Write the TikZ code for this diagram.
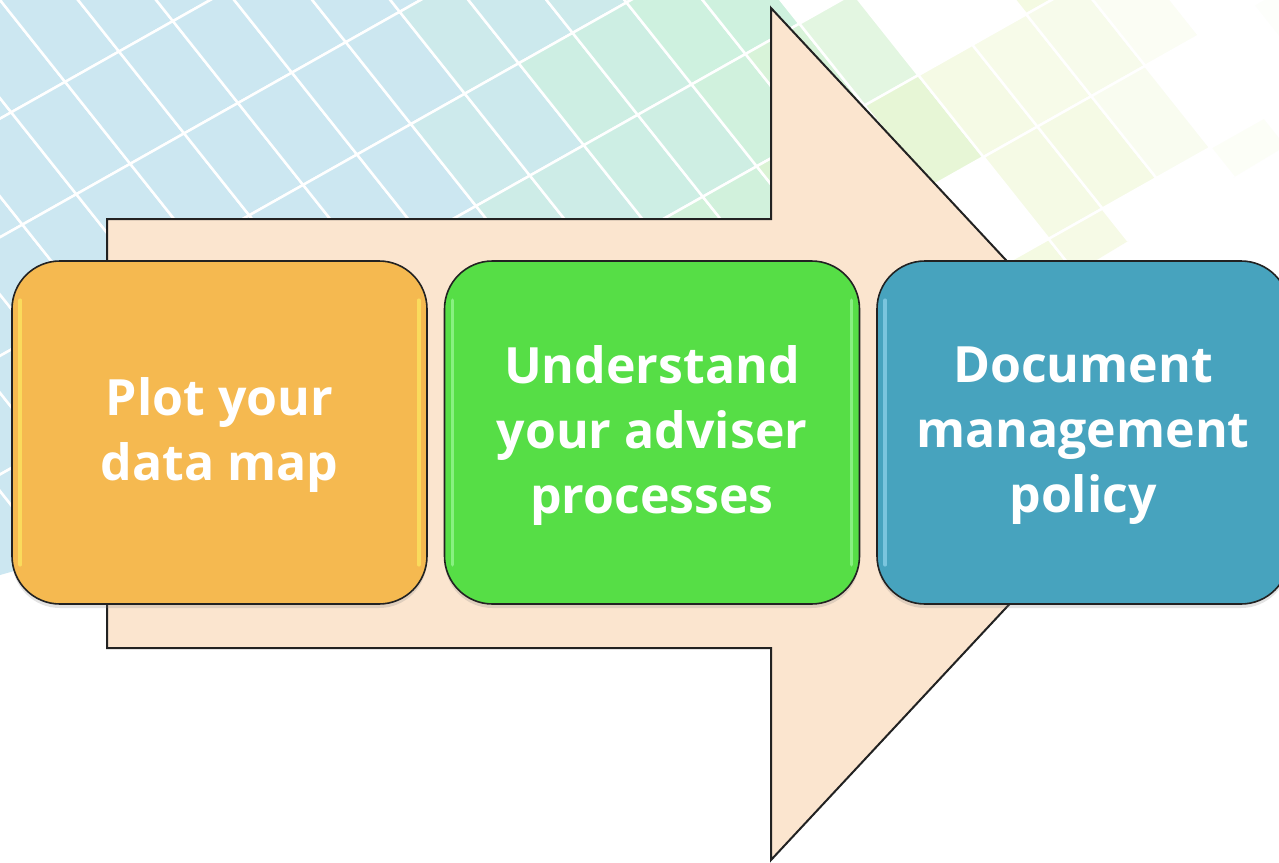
\documentclass[tikz,border=0pt]{standalone}
\usepackage{fontspec}
\setmainfont{Open Sans}
\usetikzlibrary{shadows}
\definecolor{tblue}{RGB}{204,231,241}
\definecolor{tgreen}{RGB}{206,241,222}
\definecolor{tyel}{RGB}{234,245,200}
\definecolor{arrowfill}{RGB}{251,229,207}
\definecolor{cOrange}{RGB}{245,185,80}
\definecolor{cGreen}{RGB}{86,222,70}
\definecolor{cTeal}{RGB}{71,163,190}
\definecolor{edge}{RGB}{34,34,34}
\tikzset{
  stepbox/.style={draw=edge, line width=1.6pt, rounded corners=48pt,
    minimum height=343pt, inner sep=0pt, text=white, align=center,
    font=\fontsize{50}{65}\selectfont\bfseries,
    drop shadow={opacity=0.22, shadow xshift=0pt, shadow yshift=-4pt}},
  hl/.style={line width=3.5pt, line cap=round, opacity=0.55},
  bigarrow/.style={fill=arrowfill, draw=edge, line width=2pt, line join=miter},
  lbl/.style={text=white, align=center, font=\fontsize{50}{65}\selectfont\bfseries}
}
\begin{document}
\begin{tikzpicture}[x=1pt,y=-1pt]
\useasboundingbox (0,0) rectangle (1279,862);
\fill[white] (0,0) rectangle (1279,862);
% background tiles
\begin{scope}
\clip (0,0) -- (1279,0) -- (1279,150) -- (1080,270) -- (0,575) -- cycle;
\pgfmathsetseed{11}
\foreach \i in {-7,...,17}{
 \foreach \j in {-1,...,11}{
  \pgfmathsetmacro\ax{\i*53.9+\j*65.1}
  \pgfmathsetmacro\ay{-\i*30.4+\j*81.9}
  \pgfmathsetmacro\cx{\ax+59.5}
  \pgfmathsetmacro\ra{rnd}
  \pgfmathsetmacro\rb{rnd}
  \pgfmathsetmacro\rc{rnd}
  \pgfmathsetmacro\rd{rnd}
  \pgfmathtruncatemacro\gm{max(0,min(100,(\cx-380)/3.5 + 40*(\ra-0.5)))}
  \pgfmathtruncatemacro\ym{max(0,min(100,(\cx-700)/2.5 + 50*(\rb-0.5)))}
  \pgfmathtruncatemacro\fd{max(8,min(100, 100-(\cx-780)/5 + 30*(\rc-0.5)))}
  \pgfmathtruncatemacro\keep{\cx < 650 ? 1 : (\rd > (\cx-650)/900 ? 1 : 0)}
  \ifnum\keep=1
   \colorlet{tc1}{tgreen!\gm!tblue}
   \colorlet{tc2}{tyel!\ym!tc1}
   \colorlet{tcf}{tc2!\fd!white}
   \filldraw[draw=white, line width=2.5pt, fill=tcf]
     (\ax,\ay) -- ++(53.9,-30.4) -- ++(65.1,81.9) -- ++(-53.9,30.4) -- cycle;
  \fi
 }}
\end{scope}
% big arrow
\coordinate (a1) at (107,219);
\coordinate (a2) at (771,219);
\coordinate (a3) at (771,8);
\coordinate (tip) at (1168,434);
\coordinate (a5) at (771,860);
\coordinate (a6) at (771,648);
\coordinate (a7) at (107,648);
\draw[bigarrow] (a1) -- (a2) -- (a3) -- (tip) -- (a5) -- (a6) -- (a7) -- cycle;
% boxes
\node[stepbox, fill=cOrange, minimum width=415pt] (b1) at (219.5,432.5) {};
\node[stepbox, fill=cGreen, minimum width=415pt] (b2) at (652,432.5) {};
\node[stepbox, fill=cTeal, minimum width=412pt] (b3) at (1083,432.5) {};
% glossy highlights
\draw[hl, draw=yellow!60!white] ([xshift=9pt,yshift=-40pt]b1.north west) -- ([xshift=9pt,yshift=40pt]b1.south west);
\draw[hl, draw=yellow!60!white] ([xshift=-9pt,yshift=-40pt]b1.north east) -- ([xshift=-9pt,yshift=40pt]b1.south east);
\draw[hl, draw=green!30!white] ([xshift=9pt,yshift=-40pt]b2.north west) -- ([xshift=9pt,yshift=40pt]b2.south west);
\draw[hl, draw=green!30!white] ([xshift=-9pt,yshift=-40pt]b2.north east) -- ([xshift=-9pt,yshift=40pt]b2.south east);
\draw[hl, draw=cyan!35!white] ([xshift=9pt,yshift=-40pt]b3.north west) -- ([xshift=9pt,yshift=40pt]b3.south west);
% labels
\node[lbl] (t1) at ([yshift=-3pt]b1.center) {Plot your\\data map};
\node[lbl] (t2) at ([yshift=-3pt]b2.center) {Understand\\your adviser\\processes};
\node[lbl] (t3) at ([yshift=-3pt]b3.center) {Document\\management\\policy};
\end{tikzpicture}
\end{document}
